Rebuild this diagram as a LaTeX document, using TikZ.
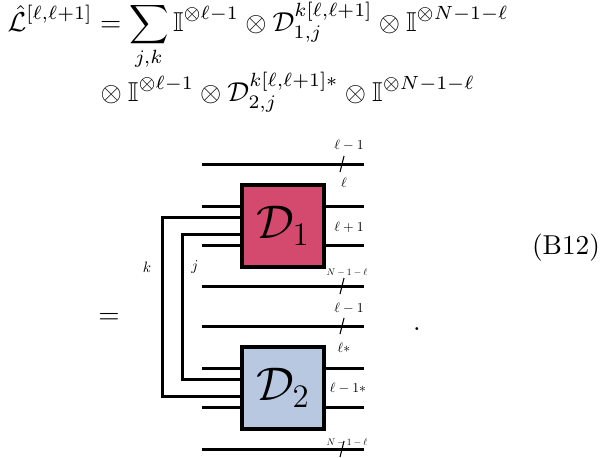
\documentclass[tikz,border=0pt]{standalone}
\usepackage{amssymb}
\usepackage{amsmath}
\usepackage{graphicx}
\usepackage{tikz}
\usetikzlibrary{positioning}
\definecolor{dred}{RGB}{212,73,110}
\definecolor{dblue}{RGB}{184,200,224}
\newcommand{\leglab}[1]{\scalebox{0.5}{$#1$}}
\newcommand{\tinymath}[1]{\scalebox{0.35}{$#1$}}

\begin{document}
\begin{tikzpicture}[x=0.366pt,y=-0.366pt,
	wire/.style={line width=1.1pt},
	tick/.style={line width=0.4pt},
	tens/.style={draw, line width=1.5pt, minimum size=30pt, inner sep=0pt, outer sep=0pt, font=\LARGE},
	lbl/.style={inner sep=0pt}]
	\useasboundingbox (0,0) rectangle (611,457);

	% the equation
	\node[anchor=base west, inner sep=0pt] (eqa) at (7,31) {$\displaystyle \hat{\mathcal{L}}^{[\ell,\ell+1]} = \sum_{j,k} \mathbb{I}^{\otimes \ell-1} \otimes \mathcal{D}^{k[\ell,\ell+1]}_{1,j} \otimes \mathbb{I}^{\otimes N-1-\ell}$};
	\node[anchor=base west, inner sep=0pt] (eqb) at (94,101) {$\displaystyle {}\otimes \mathbb{I}^{\otimes \ell-1} \otimes \mathcal{D}^{k[\ell,\ell+1]*}_{2,j} \otimes \mathbb{I}^{\otimes N-1-\ell}$};
	\node (eqs) at (109,318) {$=$};
	\node[anchor=base] (dot) at (417,330) {.};
	\node (tag) at (566,248) {(B12)};

	% tensors
	\node[tens, fill=dred] (D1) at (283,226) {$\mathcal{D}_1$};
	\node[tens, fill=dblue, below=29.3pt of D1] (D2) {$\mathcal{D}_2$};

	% legs
	\foreach \b in {D1,D2} {
		\foreach \s in {7.3pt,-7.3pt} {
			\draw[wire] ([yshift=\s]\b.west) -- ++(-40,0);
			\draw[wire] ([yshift=\s]\b.east) -- ++(40,0);
		}
	}
	\draw[wire] ([yshift=3pt]D1.west) -- ++(-80,0) |- ([yshift=-3pt]D2.west);
	\draw[wire] ([yshift=-3pt]D1.west) -- ++(-60,0) |- ([yshift=3pt]D2.west);

	% identity lines
	\foreach \y in {164,286,326,449} {
		\draw[wire] (202,\y) -- (364,\y);
		\draw[tick] (340,\y+8) -- (344,\y-8);
	}

	\node[lbl] (la) at (349,145) {\leglab{\ell-1}};
	\node[lbl] (lb) at (344,183) {\leglab{\ell}};
	\node[lbl] (lc) at (349,227) {\leglab{\ell+1}};
	\node[lbl] (ld) at (347,273) {\tinymath{N-1-\ell}};
	\node[lbl] (le) at (349,308) {\leglab{\ell-1}};
	\node[lbl] (lf) at (344,348) {\leglab{\ell*}};
	\node[lbl] (lg) at (348,388) {\leglab{\ell-1*}};
	\node[lbl] (lh) at (347,443) {\tinymath{N-1-\ell}};
	\node[lbl] (k) at (147,267) {\scalebox{0.55}{$k$}};
	\node[lbl] (j) at (195,267) {\scalebox{0.55}{$j$}};

\end{tikzpicture}
\end{document}
